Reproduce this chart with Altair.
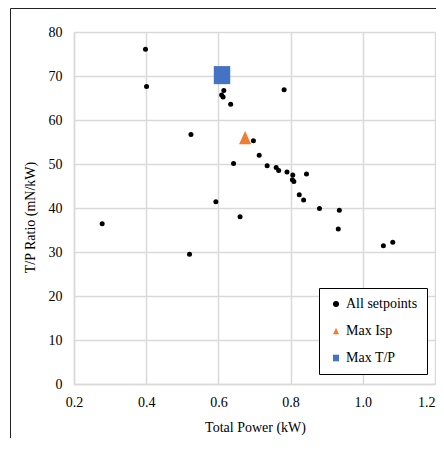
import altair as alt
import pandas as pd

# Data
setpoint_power = [0.278, 0.398, 0.401, 0.520, 0.524, 0.593, 0.615, 0.609, 0.613,
                  0.634, 0.642, 0.660, 0.697, 0.713, 0.735, 0.760, 0.767, 0.782,
                  0.790, 0.806, 0.805, 0.809, 0.824, 0.836, 0.844, 0.880, 0.935,
                  0.932, 1.057, 1.083]
setpoint_tp = [36.4, 76.1, 67.6, 29.5, 56.7, 41.4, 66.7, 65.7, 65.2,
               63.6, 50.1, 38.0, 55.3, 52.0, 49.6, 49.2, 48.5, 66.9,
               48.2, 47.5, 46.4, 46.0, 43.0, 41.8, 47.7, 39.9, 39.5,
               35.2, 31.4, 32.2]
max_isp_power = [0.674]
max_isp_tp = [56.0]
max_tp_power = [0.610]
max_tp_tp = [70.2]

series = ["All setpoints", "Max Isp", "Max T/P"]
colors = ["#000000", "#ED7D31", "#4472C4"]
shapes = ["circle", "M0,-1.1L1,1.1L-1,1.1Z", "M-1,-1.1L1,-1.1L1,1.1L-1,1.1Z"]
size_keys = ["s_dot", "s_tri", "s_sq"]
sizes = [25, 270, 324]

x_ticks = [0.2, 0.4, 0.6, 0.8, 1.0, 1.2]
y_ticks = [0, 10, 20, 30, 40, 50, 60, 70, 80]

rows = []
for p, t in zip(max_isp_power, max_isp_tp):
    rows.append({"power": p, "tp": t, "Type": "Max Isp", "SizeKey": "s_tri", "ord": 1})
for p, t in zip(max_tp_power, max_tp_tp):
    rows.append({"power": p, "tp": t, "Type": "Max T/P", "SizeKey": "s_sq", "ord": 1})
for p, t in zip(setpoint_power, setpoint_tp):
    rows.append({"power": p, "tp": t, "Type": "All setpoints", "SizeKey": "s_dot", "ord": 2})
df = pd.DataFrame(rows)

FONT = "Liberation Serif"

points = alt.Chart(df).mark_point(filled=True, opacity=1, strokeWidth=0).encode(
    x=alt.X("power:Q", title="Total Power (kW)",
            scale=alt.Scale(domain=[0.2, 1.2], nice=False, zero=False),
            axis=alt.Axis(values=x_ticks, format=".1f", labelPadding=11,
                          titlePadding=11, labelFont=FONT, titleFont=FONT,
                          labelFlush=False, titleX=181,
                          labelAlign=alt.ConditionalAxisLabelAlign(
                              condition={"test": "datum.value >= 1.19", "value": "right"},
                              value="center"))),
    y=alt.Y("tp:Q", title="T/P Ratio (mN/kW)",
            scale=alt.Scale(domain=[0, 80], nice=False),
            axis=alt.Axis(values=y_ticks, labelPadding=12, titlePadding=11,
                          titleY=185, labelFont=FONT, titleFont=FONT,
                          labelFlush=False)),
    color=alt.Color("Type:N", scale=alt.Scale(domain=series, range=colors),
                    legend=alt.Legend(title=None, orient="none", legendX=245,
                                      legendY=256, padding=9, symbolOffset=1,
                                      rowPadding=13, labelOffset=3,
                                      symbolSize=36, strokeColor="#000000",
                                      fillColor="#ffffff", symbolStrokeWidth=0,
                                      labelFont=FONT, labelFontSize=14,
                                      labelColor="#000000")),
    shape=alt.Shape("Type:N", scale=alt.Scale(domain=series, range=shapes)),
    size=alt.Size("SizeKey:N", scale=alt.Scale(domain=size_keys, range=sizes), legend=None),
    order=alt.Order("ord:Q"),
)

frame = alt.Data(values=[{"a": 1}])
left_line = alt.Chart(frame).mark_rule(color="#222222", strokeWidth=1).encode(
    x=alt.value(-63.5), y=alt.value(-23.5), y2=alt.value(420))
top_line = alt.Chart(frame).mark_rule(color="#222222", strokeWidth=1).encode(
    x=alt.value(-63.5), x2=alt.value(380), y=alt.value(-23.5))

chart = alt.layer(points, left_line, top_line).properties(
    width=361, height=352,
    autosize=alt.AutoSizeParams(type="none"),
    padding={"left": 66, "top": 24, "right": 1, "bottom": 54},
    background="#ffffff",
).configure(font=FONT).configure_axis(
    labelFont=FONT, titleFont=FONT, labelFontSize=14, titleFontSize=14,
    labelColor="#000000", titleColor="#000000", titleFontWeight="normal",
    ticks=False, grid=True, gridColor="#d9d9d9", gridWidth=1.5,
    domainColor="#d9d9d9", domainWidth=1.5,
).configure_legend(
    labelFont=FONT, labelFontSize=14, labelColor="#000000",
).configure_view(strokeWidth=0)

chart.save("out.html", embed_options={"renderer": "svg", "actions": False})
